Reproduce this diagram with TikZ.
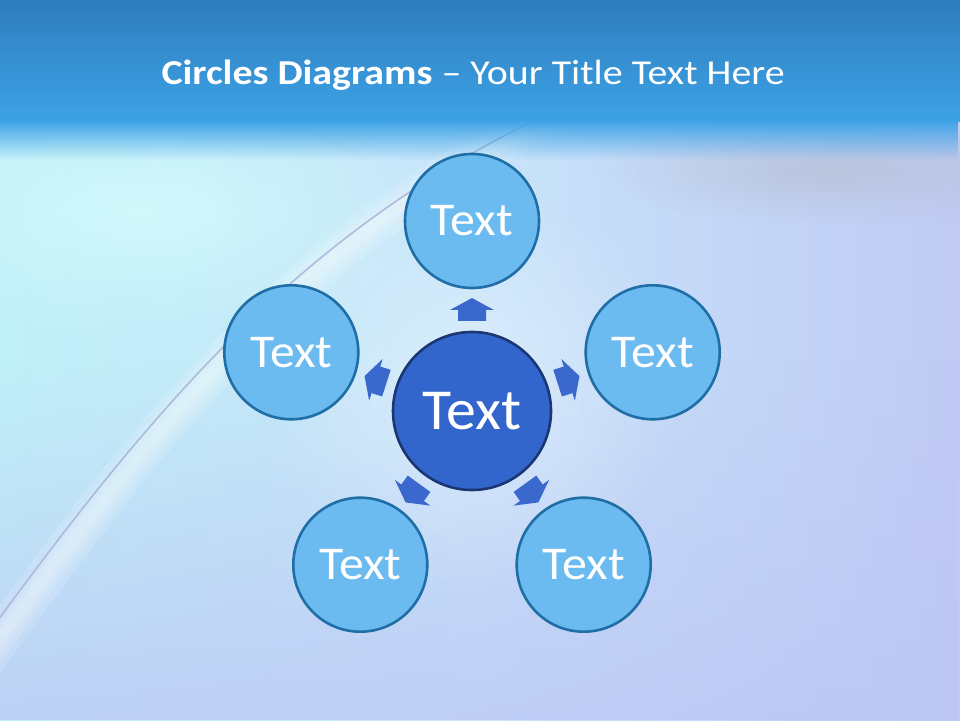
\documentclass[tikz,border=0pt]{standalone}
\usepackage{fontspec}
\usepackage{graphicx}
\setmainfont{Carlito}
\usetikzlibrary{fadings}
\tikzfading[name=softglow, inner color=transparent!0, outer color=transparent!100]
\begin{document}
\begin{tikzpicture}[x=1pt,y=1pt,
  outer/.style={circle,draw=outerline,fill=outerfill,line width=2.6pt,minimum size=134pt,inner sep=0pt,text=white,font=\fontsize{47}{50}\selectfont},
  center/.style={circle,draw=centerline,fill=centerfill,line width=2.6pt,minimum size=158pt,inner sep=0pt,text=white,font=\fontsize{58}{60}\selectfont},
  blockarrow/.style={fill=arrowfill,draw=none},
  glow/.style={white,opacity=0.14}]
\definecolor{outerfill}{HTML}{6BBBF0}
\definecolor{outerline}{HTML}{1F6EA6}
\definecolor{centerfill}{HTML}{3366CC}
\definecolor{centerline}{HTML}{1B3773}
\definecolor{arrowfill}{HTML}{3A68CC}
\definecolor{bandtop}{HTML}{2E7DBD}
\definecolor{bandbot}{HTML}{3DA3E6}
\definecolor{bgleft}{HTML}{C0F0F8}
\definecolor{bgmid}{HTML}{C8E4FA}
\definecolor{bgright}{HTML}{C0CAF4}
\definecolor{lav}{HTML}{BCC6F4}
\definecolor{swline}{HTML}{A4A8D6}
\definecolor{grayband}{HTML}{B8C2D8}
\definecolor{cyanglow}{HTML}{D2FAFC}
\useasboundingbox (0,0) rectangle (960,720);
% background
\shade[left color=bgleft,right color=bgright,middle color=bgmid] (0,0) rectangle (960,600);
\fill[lav,path fading=north,opacity=0.75] (0,0) rectangle (960,360);
\fill[cyanglow,path fading=softglow,opacity=0.9] (140,510) ellipse (300 and 130);
\fill[grayband,path fading=softglow,opacity=0.8] (830,550) ellipse (240 and 55);
\fill[white,path fading=softglow,opacity=0.35] (472,330) ellipse (210 and 210);
% swoosh
\foreach \w in {40,28,18,10}{
  \draw[glow,line width=\w pt] (-44,20) .. controls (150,290) and (310,510) .. (620,632);
}
\draw[swline,opacity=0.75,line width=1.6pt] (-60,20) .. controls (136,292) and (296,504) .. (606,632);
% top band
\fill[bandbot,path fading=south] (0,560) rectangle (960,600);
\shade[top color=bandtop,bottom color=bandbot] (0,598) rectangle (960,720);
% title
\node[text=white,anchor=west,font=\fontsize{35}{38}\selectfont] (title) at (158,645) {\scalebox{1.14}[1]{\textbf{Circles Diagrams} -- Your Title Text Here}};
% circles
\node[center] (c) at (472,309) {\scalebox{1.03}[1]{Text}};
\node[outer] (n1) at (472,499) {\scalebox{1.06}[1]{Text}};
\node[outer] (n2) at (652.7,367.7) {\scalebox{1.06}[1]{Text}};
\node[outer] (n3) at (291.3,367.7) {\scalebox{1.06}[1]{Text}};
\node[outer] (n4) at (360.3,155.3) {\scalebox{1.06}[1]{Text}};
\node[outer] (n5) at (583.7,155.3) {\scalebox{1.06}[1]{Text}};
% arrows
\foreach \a in {90,18,162,234,306}{
  \fill[blockarrow,shift={(c.center)},rotate=\a] (90,-14) -- (101,-14) -- (101,-22) -- (113,0) -- (101,22) -- (101,14) -- (90,14) -- cycle;
}
\end{tikzpicture}
\end{document}
